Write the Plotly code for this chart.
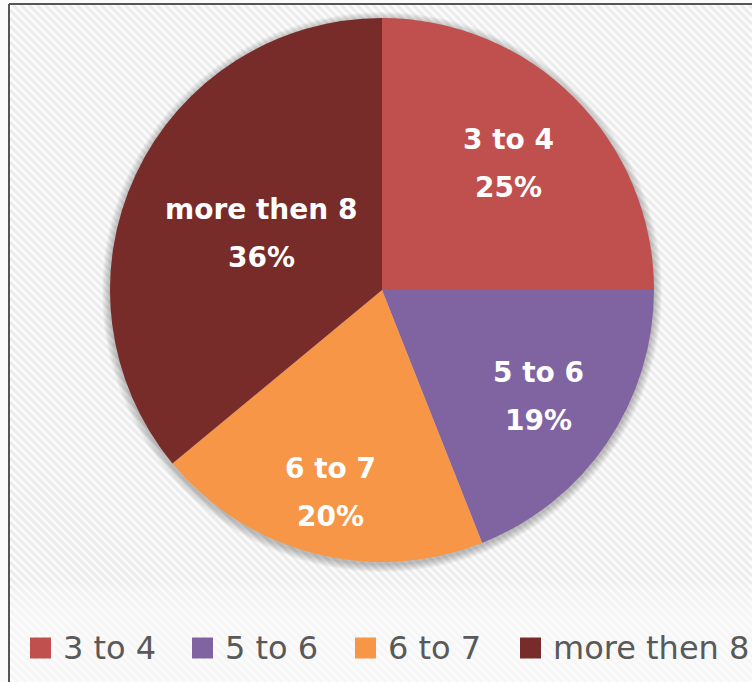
import math
import plotly.graph_objects as go

# Data
categories = ["3 to 4", "5 to 6", "6 to 7", "more then 8"]
values = [25, 19, 20, 36]
colors = ["#C0504D", "#8064A2", "#F79646", "#772C2A"]

W, H = 752, 682

# pie geometry (pixels)
CX, CY, R = 382, 290, 272
# radial position of each data label, as a fraction of the radius
label_radius = [0.66, 0.695, 0.767, 0.49]
# legend layout (pixels)
legend_x = [30, 192, 355, 520]
legend_y = 648
legend_box = 21


def px(x):
    return x / W


def py(y):
    return 1 - y / H


shapes = []

# striped background panel
X0, X1, Y0, Y1 = 10, W, 5, H
period = 8
c = X0 - Y1
while c < X1 - Y0:
    xs = max(X0, Y0 + c)
    xe = min(X1, Y1 + c)
    if xe > xs:
        shapes.append(dict(type="line", xref="paper", yref="paper",
                           x0=px(xs), y0=py(xs - c), x1=px(xe), y1=py(xe - c),
                           line=dict(color="#ececec", width=3), layer="below"))
    c += period

# lighter band behind the legend, fading in from above
for i in range(8):
    top = 584 + i * 4
    shapes.append(dict(type="rect", xref="paper", yref="paper",
                       x0=px(X0), x1=px(X1), y0=py(H), y1=py(top),
                       fillcolor="rgba(255,255,255,0.12)", line=dict(width=0), layer="below"))

# soft shadow around the pie
for i in range(1, 9):
    rr = R + i
    shapes.append(dict(type="circle", xref="paper", yref="paper",
                       x0=px(CX - rr), x1=px(CX + rr), y0=py(CY + 2 + rr), y1=py(CY + 2 - rr),
                       fillcolor="rgba(0,0,0,0.03)", line=dict(width=0), layer="below"))

# frame
shapes.append(dict(type="line", xref="paper", yref="paper",
                   x0=px(9), x1=px(9), y0=py(4), y1=py(H),
                   line=dict(color="#555555", width=2)))
shapes.append(dict(type="line", xref="paper", yref="paper",
                   x0=px(9), x1=px(W), y0=py(4), y1=py(4),
                   line=dict(color="#555555", width=2)))

# legend swatches
for x, col in zip(legend_x, colors):
    shapes.append(dict(type="rect", xref="paper", yref="paper",
                       x0=px(x), x1=px(x + legend_box),
                       y0=py(legend_y + legend_box / 2), y1=py(legend_y - legend_box / 2),
                       fillcolor=col, line=dict(width=0)))

annotations = []

# data labels at the middle angle of each slice
total = sum(values)
start = 0.0
for name, v, f in zip(categories, values, label_radius):
    mid = (start + v / 2) / total * 2 * math.pi
    start += v
    lx = CX + f * R * math.sin(mid)
    ly = CY - f * R * math.cos(mid)
    pct = f"{round(v / total * 100)}%"
    for text, dy in ((name, -24), (pct, 24)):
        annotations.append(dict(x=px(lx), y=py(ly + dy), xref="paper", yref="paper",
                                text=text, showarrow=False, xanchor="center", yanchor="middle",
                                font=dict(family="DejaVu Sans", size=28, color="white", weight="bold")))

# legend labels
for x, name in zip(legend_x, categories):
    annotations.append(dict(x=px(x + legend_box + 10), y=py(legend_y), xref="paper", yref="paper",
                            text=name, showarrow=False, xanchor="left", yanchor="middle",
                            font=dict(family="DejaVu Sans", size=32, color="#595959")))

fig = go.Figure(go.Pie(
    labels=categories,
    values=values,
    sort=False,
    direction="clockwise",
    rotation=0,
    marker=dict(colors=colors, line=dict(width=0)),
    textinfo="none",
    hoverinfo="label+percent",
    showlegend=False,
    domain=dict(x=[px(CX - R), px(CX + R)], y=[py(CY + R), py(CY - R)]),
))

fig.update_layout(
    width=W, height=H, autosize=False,
    margin=dict(l=0, r=0, t=0, b=0),
    paper_bgcolor="#fbfbfb",
    shapes=shapes,
    annotations=annotations,
)

fig.write_html("out.html")
